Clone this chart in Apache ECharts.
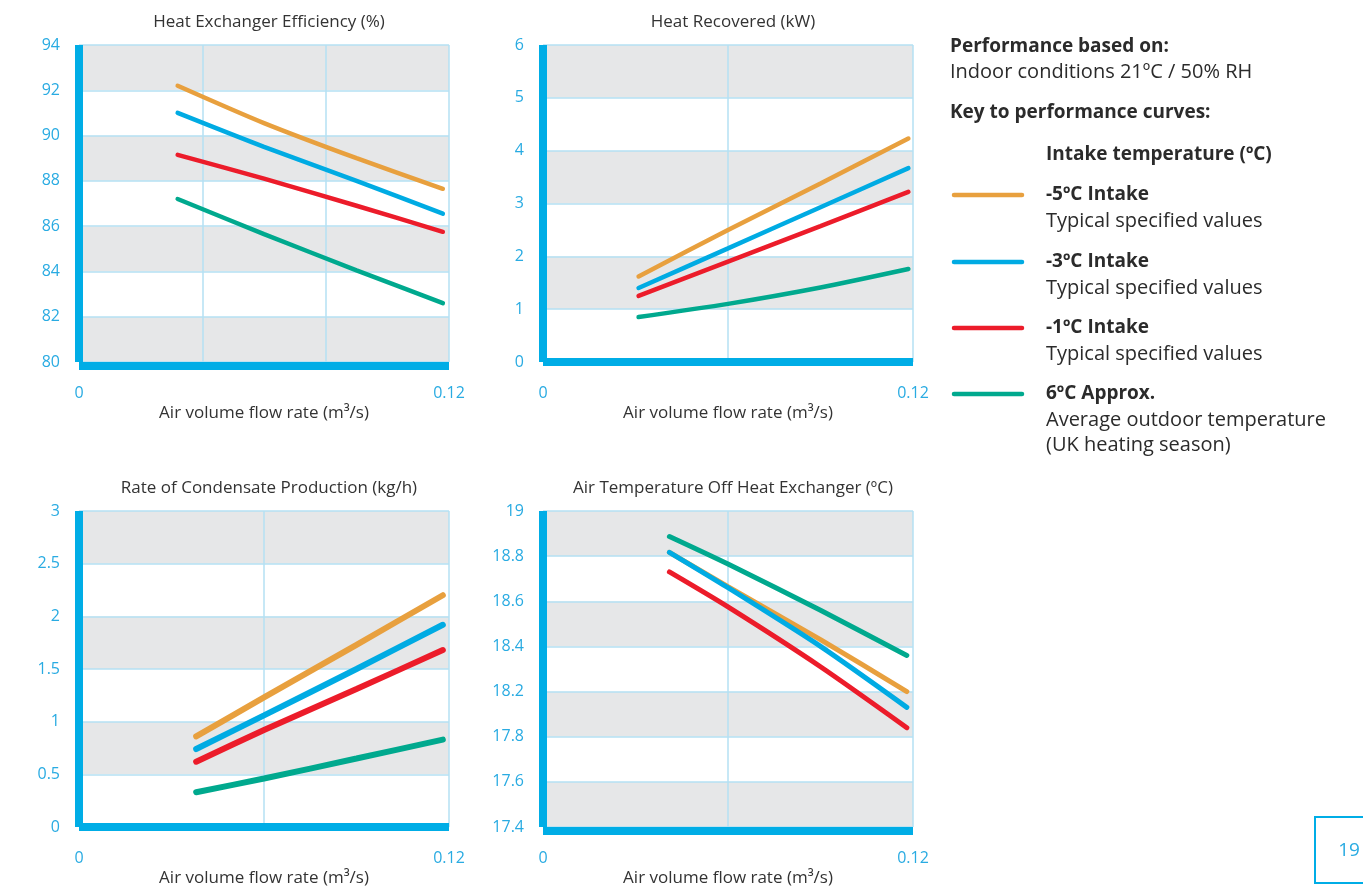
<!DOCTYPE html>
<html>
<head>
<meta charset="utf-8">
<script src="https://cdn.jsdelivr.net/npm/echarts@6/dist/echarts.min.js"></script>
<style>
html, body { margin: 0; padding: 0; background: #fff; }
#main { width: 1363px; height: 888px; }
</style>
</head>
<body>
<div id="main"></div>
<script>
// series names / colours (same for all four charts)
var seriesNames = ['-5ºC Intake', '-3ºC Intake', '-1ºC Intake', '6ºC Approx.'];
var seriesColors = ['#e8a03e', '#00abe3', '#ec1c2a', '#00a98e'];
var seriesNotes = [['Typical specified values'], ['Typical specified values'], ['Typical specified values'], ['Average outdoor temperature', '(UK heating season)']];

// x tick labels (only the ends are labelled)
var xTickLabels = ['0', '0.12'];

// Heat Exchanger Efficiency (%)
var effX = [0.032, 0.06, 0.09, 0.118];
var effM5 = [92.2, 90.55, 89.0, 87.65];
var effM3 = [91.0, 89.5, 88.0, 86.55];
var effM1 = [89.15, 88.1, 86.9, 85.75];
var eff6 = [87.2, 85.65, 84.05, 82.6];

// Heat Recovered (kW)
var heatX = [0.031, 0.06, 0.09, 0.1185];
var heatM5 = [1.62, 2.5, 3.38, 4.23];
var heatM3 = [1.4, 2.15, 2.93, 3.67];
var heatM1 = [1.25, 1.9, 2.57, 3.22];
var heat6 = [0.85, 1.10, 1.41, 1.76];

// Rate of Condensate Production (kg/h)
var condX = [0.038, 0.06, 0.09, 0.118];
var condM5 = [0.86, 1.23, 1.73, 2.2];
var condM3 = [0.74, 1.06, 1.5, 1.92];
var condM1 = [0.62, 0.92, 1.31, 1.68];
var cond6 = [0.33, 0.46, 0.65, 0.83];

// Air Temperature Off Heat Exchanger (ºC)
var tempX = [0.041, 0.06, 0.09, 0.118];
var tempM5 = [18.817, 18.665, 18.43, 18.2];
var tempM3 = [18.817, 18.66, 18.4, 18.13];
var tempM1 = [18.73, 18.575, 18.31, 18.04];
var temp6 = [18.887, 18.765, 18.56, 18.36];
// printed tick labels of that chart, bottom to top (as printed)
var tempTickLabels = ['17.4', '17.6', '17.8', '18.2', '18.4', '18.6', '18.8', '19'];

var FONT = '"Open Sans", "Noto Sans", sans-serif';
var BLUE = '#00ade6';
var LABEL_BLUE = '#29abe2';
var GRID_LINE = '#b5e1f3';
var GRAY = '#e6e7e8';

var charts = [
    { title: 'Heat Exchanger Efficiency (%)', left: 79, top: 45, x: effX, ys: [effM5, effM3, effM1, eff6],
      min: 80, max: 94, interval: 2, xInterval: 0.04, bands: [GRAY, '#fff'], width: 4.5 },
    { title: 'Heat Recovered (kW)', left: 543, top: 45, x: heatX, ys: [heatM5, heatM3, heatM1, heat6],
      min: 0, max: 6, interval: 1, xInterval: 0.06, bands: ['#fff', GRAY], width: 4.5 },
    { title: 'Rate of Condensate Production (kg/h)', left: 79, top: 511, x: condX, ys: [condM5, condM3, condM1, cond6],
      min: 0, max: 3, interval: 0.5, xInterval: 0.06, bands: ['#fff', GRAY], width: 6 },
    { title: 'Air Temperature Off Heat Exchanger (ºC)', left: 543, top: 511, x: tempX, ys: [tempM5, tempM3, tempM1, temp6],
      min: 17.6, max: 19, interval: 0.2, xInterval: 0.06, bands: [GRAY, '#fff'], width: 5, labels: tempTickLabels }
];
var W = 370, H = 317;

var grid = [], xAxis = [], yAxis = [], series = [], title = [];
charts.forEach(function (c, i) {
    grid.push({ left: c.left, top: c.top, width: W, height: H });
    title.push({
        text: c.title, left: c.left + W / 2, top: c.top - 36, textAlign: 'center',
        textStyle: { fontFamily: FONT, fontSize: 17, fontWeight: 'normal', color: '#333' }
    });
    xAxis.push({
        gridIndex: i, type: 'value', min: 0, max: 0.12, interval: c.xInterval, offset: 4,
        name: 'Air volume flow rate (m³/s)', nameLocation: 'middle', nameGap: 39,
        nameTextStyle: { fontFamily: FONT, fontSize: 17, color: '#333' },
        axisLine: { show: true, lineStyle: { color: BLUE, width: 8, cap: 'butt' } },
        axisTick: { show: false },
        axisLabel: {
            margin: 19, fontFamily: FONT, fontSize: 16, color: LABEL_BLUE,
            formatter: function (v) {
                if (v === 0) return xTickLabels[0];
                if (Math.abs(v - 0.12) < 1e-9) return xTickLabels[1];
                return '';
            }
        },
        splitLine: { show: true, lineStyle: { color: GRID_LINE, width: 1.5 } }
    });
    yAxis.push({
        gridIndex: i, type: 'value', min: c.min, max: c.max, interval: c.interval, offset: 5,
        axisLine: { show: true, lineStyle: { color: BLUE, width: 8, cap: 'butt' } },
        axisTick: { show: false },
        axisLabel: {
            margin: 14, fontFamily: FONT, fontSize: 16, color: LABEL_BLUE,
            formatter: c.labels ? function (v, idx) { return c.labels[idx]; } : null
        },
        splitLine: { show: true, lineStyle: { color: GRID_LINE, width: 1.5 } },
        splitArea: { show: true, areaStyle: { color: c.bands } }
    });
    c.ys.forEach(function (ys, k) {
        series.push({
            name: seriesNames[k], type: 'line', xAxisIndex: i, yAxisIndex: i,
            data: c.x.map(function (x, j) { return [x, ys[j]]; }),
            smooth: 0.25, showSymbol: false, symbol: 'none',
            lineStyle: { color: seriesColors[k], width: c.width, cap: 'round' },
            itemStyle: { color: seriesColors[k] }
        });
    });
});

// key panel on the right
var graphic = [];
var kx = 950, tx = 1046;
function txt(x, y, s, bold) {
    graphic.push({ type: 'text', x: x, y: y, style: {
        text: s, fill: '#2b2b2b', fontFamily: FONT, fontSize: bold ? 19 : 20,
        fontWeight: bold ? 'bold' : 'normal', verticalAlign: 'middle' } });
}
txt(kx, 47, 'Performance based on:', true);
txt(kx, 72, 'Indoor conditions 21ºC / 50% RH', false);
txt(kx, 113, 'Key to performance curves:', true);
txt(tx, 155, 'Intake temperature (ºC)', true);
var rowY = [195, 262, 328, 394];
seriesNames.forEach(function (n, k) {
    graphic.push({ type: 'line', shape: { x1: 954, y1: rowY[k], x2: 1022, y2: rowY[k] },
        style: { stroke: seriesColors[k], lineWidth: 4.5, lineCap: 'round' } });
    txt(tx, rowY[k], n, true);
    seriesNotes[k].forEach(function (s, m) { txt(tx, rowY[k] + 26 + m * 25, s, false); });
});
// page number box
graphic.push({ type: 'rect', shape: { x: 1315, y: 817, width: 60, height: 66 },
    style: { fill: 'none', stroke: BLUE, lineWidth: 2 } });
graphic.push({ type: 'text', x: 1349, y: 851, style: { text: '19', fill: LABEL_BLUE, fontFamily: FONT, fontSize: 19,
    align: 'center', verticalAlign: 'middle' } });

var myChart = echarts.init(document.getElementById('main'));
myChart.setOption({
    animation: false,
    backgroundColor: '#fff',
    title: title,
    grid: grid,
    xAxis: xAxis,
    yAxis: yAxis,
    series: series,
    graphic: graphic
});
</script>
</body>
</html>
